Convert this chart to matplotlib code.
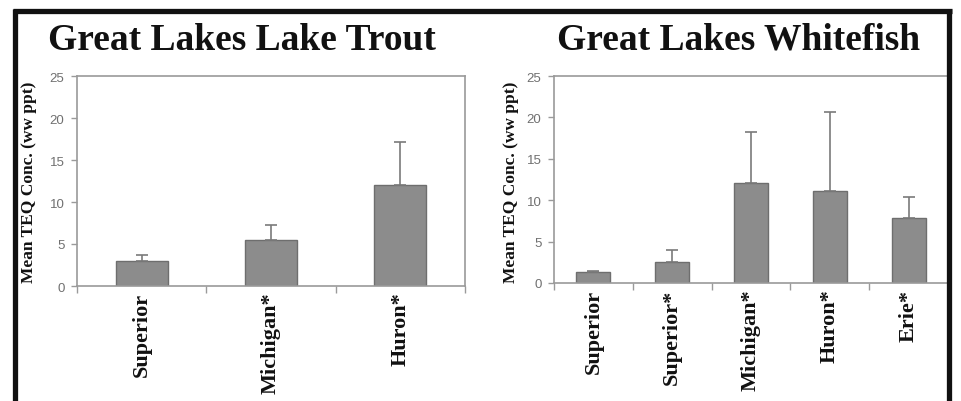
import matplotlib
matplotlib.use("Agg")
import matplotlib.pyplot as plt
from matplotlib.lines import Line2D
import numpy as np

# Data
trout_labels = ["Superior", "Michigan*", "Huron*"]
trout_means = [3.0, 5.5, 12.0]
trout_err = [0.7, 1.8, 5.1]

white_labels = ["Superior", "Superior*", "Michigan*", "Huron*", "Erie*"]
white_means = [1.3, 2.5, 12.1, 11.1, 7.8]
white_err = [0.15, 1.5, 6.1, 9.5, 2.6]

yticks = [0, 5, 10, 15, 20, 25]
ylabel = "Mean TEQ Conc. (ww ppt)"

W, H = 962, 402
fig = plt.figure(figsize=(W / 100, H / 100), dpi=100)
fig.patch.set_facecolor("white")

serif = ["Liberation Serif", "DejaVu Serif"]
bar_color = "#8c8c8c"
edge_color = "#6e6e6e"
axis_color = "#9a9a9a"
tick_text = "#707070"


def px(x0, y_top, x1, y_bot):
    return [x0 / W, 1 - y_bot / H, (x1 - x0) / W, (y_bot - y_top) / H]


def panel(rect, labels, means, errs, bw, title, title_x, ylab_x):
    ax = fig.add_axes(rect)
    n = len(labels)
    x = np.arange(n)
    ax.bar(x, means, width=bw, color=bar_color, edgecolor=edge_color,
           linewidth=1.0, zorder=2)
    ax.errorbar(x, means, yerr=[np.zeros(n), errs], fmt="none",
                ecolor="#7a7a7a", elinewidth=1.2, capsize=4, capthick=1.2,
                zorder=3)
    ax.set_xlim(-0.5, n - 0.5)
    ax.set_ylim(0, 25)
    ax.set_yticks(yticks)
    ax.set_yticklabels([str(t) for t in yticks], family=["Liberation Sans"],
                       fontsize=9.5, color=tick_text)
    ax.tick_params(axis="y", direction="out", length=4, color=axis_color,
                   width=1, pad=5)
    ax.set_xticks(np.arange(-0.5, n, 1.0), minor=True)
    ax.set_xticks(x)
    ax.set_xticklabels(labels, rotation=90, family=serif, fontweight="bold",
                       fontsize=16, color="#111111", va="top", ha="center")
    ax.tick_params(axis="x", which="major", length=0, pad=4)
    ax.tick_params(axis="x", which="minor", direction="out", length=5,
                   color=axis_color, width=1)
    for s in ax.spines.values():
        s.set_color(axis_color)
        s.set_linewidth(1.2)
    fig.text(title_x / W, 1 - 40 / H, title, family=serif, fontweight="bold",
             fontsize=27, ha="center", va="center", color="#111111")
    fig.text(ylab_x / W, 1 - 182 / H, ylabel, family=serif,
             fontweight="bold", fontsize=12.5, rotation=90, ha="center",
             va="center", color="#111111")
    return ax


panel(px(77, 77, 465, 287), trout_labels, trout_means, trout_err, 0.4,
      "Great Lakes Lake Trout", 242, 29)
panel(px(554, 77, 948, 284), white_labels, white_means, white_err, 0.43,
      "Great Lakes Whitefish", 739, 511)

# thick black border
lw = 3.8
fig.add_artist(Line2D([13 / W, 952 / W], [1 - 11.5 / H, 1 - 11.5 / H],
                      color="#111111", linewidth=lw, transform=fig.transFigure,
                      solid_capstyle="butt"))
fig.add_artist(Line2D([15 / W, 15 / W], [1 - 9.5 / H, 0], color="#111111",
                      linewidth=lw, transform=fig.transFigure,
                      solid_capstyle="butt"))
fig.add_artist(Line2D([949.5 / W, 949.5 / W], [1 - 9.5 / H, 0],
                      color="#111111", linewidth=lw,
                      transform=fig.transFigure, solid_capstyle="butt"))

fig.savefig("out.png", dpi=100, facecolor="white")
